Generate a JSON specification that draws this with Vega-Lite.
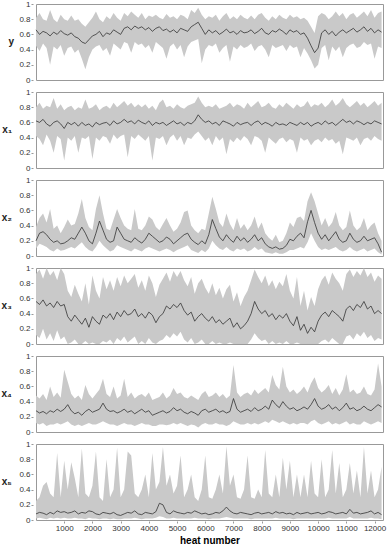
{
"$schema": "https://vega.github.io/schema/vega-lite/v6.json",
"padding": {"left": 1, "top": 0, "right": 3, "bottom": 0},
"data": {"values": [
{"v":"y","h":0,"l":0.45,"m":0.66,"u":0.82},{"v":"y","h":125,"l":0.38,"m":0.60,"u":0.88},{"v":"y","h":250,"l":0.48,"m":0.64,"u":0.80},{"v":"y","h":375,"l":0.42,"m":0.62,"u":0.78},{"v":"y","h":500,"l":0.20,"m":0.58,"u":0.92},{"v":"y","h":625,"l":0.44,"m":0.63,"u":0.80},{"v":"y","h":750,"l":0.40,"m":0.60,"u":0.76},{"v":"y","h":875,"l":0.46,"m":0.65,"u":0.86},{"v":"y","h":1000,"l":0.32,"m":0.61,"u":0.80},{"v":"y","h":1125,"l":0.42,"m":0.59,"u":0.78},
{"v":"y","h":1250,"l":0.44,"m":0.62,"u":0.85},{"v":"y","h":1375,"l":0.36,"m":0.57,"u":0.78},{"v":"y","h":1500,"l":0.40,"m":0.55,"u":0.80},{"v":"y","h":1625,"l":0.28,"m":0.50,"u":0.74},{"v":"y","h":1750,"l":0.14,"m":0.48,"u":0.70},{"v":"y","h":1875,"l":0.30,"m":0.53,"u":0.76},{"v":"y","h":2000,"l":0.40,"m":0.58,"u":0.82},{"v":"y","h":2125,"l":0.44,"m":0.60,"u":0.90},{"v":"y","h":2250,"l":0.46,"m":0.64,"u":0.80},{"v":"y","h":2375,"l":0.38,"m":0.57,"u":0.76},
{"v":"y","h":2500,"l":0.42,"m":0.62,"u":0.84},{"v":"y","h":2625,"l":0.32,"m":0.60,"u":0.80},{"v":"y","h":2750,"l":0.48,"m":0.66,"u":0.88},{"v":"y","h":2875,"l":0.44,"m":0.63,"u":0.82},{"v":"y","h":3000,"l":0.40,"m":0.60,"u":0.78},{"v":"y","h":3125,"l":0.50,"m":0.68,"u":0.88},{"v":"y","h":3250,"l":0.48,"m":0.70,"u":0.84},{"v":"y","h":3375,"l":0.36,"m":0.66,"u":0.90},{"v":"y","h":3500,"l":0.50,"m":0.71,"u":0.86},{"v":"y","h":3625,"l":0.46,"m":0.68,"u":0.82},
{"v":"y","h":3750,"l":0.48,"m":0.70,"u":0.88},{"v":"y","h":3875,"l":0.42,"m":0.66,"u":0.80},{"v":"y","h":4000,"l":0.46,"m":0.69,"u":0.85},{"v":"y","h":4125,"l":0.36,"m":0.64,"u":0.83},{"v":"y","h":4250,"l":0.50,"m":0.68,"u":0.86},{"v":"y","h":4375,"l":0.46,"m":0.70,"u":0.82},{"v":"y","h":4500,"l":0.42,"m":0.65,"u":0.80},{"v":"y","h":4625,"l":0.28,"m":0.67,"u":0.87},{"v":"y","h":4750,"l":0.44,"m":0.63,"u":0.82},{"v":"y","h":4875,"l":0.48,"m":0.66,"u":0.84},
{"v":"y","h":5000,"l":0.40,"m":0.62,"u":0.80},{"v":"y","h":5125,"l":0.46,"m":0.68,"u":0.86},{"v":"y","h":5250,"l":0.30,"m":0.66,"u":0.84},{"v":"y","h":5375,"l":0.44,"m":0.64,"u":0.80},{"v":"y","h":5500,"l":0.50,"m":0.70,"u":0.92},{"v":"y","h":5625,"l":0.52,"m":0.73,"u":0.88},{"v":"y","h":5750,"l":0.54,"m":0.76,"u":0.95},{"v":"y","h":5875,"l":0.22,"m":0.68,"u":0.86},{"v":"y","h":6000,"l":0.40,"m":0.60,"u":0.80},{"v":"y","h":6125,"l":0.46,"m":0.66,"u":0.84},
{"v":"y","h":6250,"l":0.44,"m":0.62,"u":0.82},{"v":"y","h":6375,"l":0.48,"m":0.65,"u":0.86},{"v":"y","h":6500,"l":0.36,"m":0.60,"u":0.78},{"v":"y","h":6625,"l":0.42,"m":0.63,"u":0.84},{"v":"y","h":6750,"l":0.46,"m":0.67,"u":0.88},{"v":"y","h":6875,"l":0.24,"m":0.62,"u":0.80},{"v":"y","h":7000,"l":0.44,"m":0.64,"u":0.84},{"v":"y","h":7125,"l":0.40,"m":0.60,"u":0.80},{"v":"y","h":7250,"l":0.46,"m":0.65,"u":0.86},{"v":"y","h":7375,"l":0.42,"m":0.62,"u":0.82},
{"v":"y","h":7500,"l":0.44,"m":0.63,"u":0.80},{"v":"y","h":7625,"l":0.48,"m":0.66,"u":0.85},{"v":"y","h":7750,"l":0.38,"m":0.61,"u":0.80},{"v":"y","h":7875,"l":0.44,"m":0.64,"u":0.86},{"v":"y","h":8000,"l":0.46,"m":0.68,"u":0.88},{"v":"y","h":8125,"l":0.40,"m":0.62,"u":0.82},{"v":"y","h":8250,"l":0.30,"m":0.60,"u":0.78},{"v":"y","h":8375,"l":0.46,"m":0.65,"u":0.84},{"v":"y","h":8500,"l":0.42,"m":0.63,"u":0.80},{"v":"y","h":8625,"l":0.44,"m":0.67,"u":0.86},
{"v":"y","h":8750,"l":0.46,"m":0.64,"u":0.82},{"v":"y","h":8875,"l":0.38,"m":0.60,"u":0.80},{"v":"y","h":9000,"l":0.46,"m":0.66,"u":0.86},{"v":"y","h":9125,"l":0.42,"m":0.63,"u":0.82},{"v":"y","h":9250,"l":0.44,"m":0.65,"u":0.84},{"v":"y","h":9375,"l":0.30,"m":0.60,"u":0.80},{"v":"y","h":9500,"l":0.42,"m":0.62,"u":0.82},{"v":"y","h":9625,"l":0.35,"m":0.55,"u":0.78},{"v":"y","h":9750,"l":0.26,"m":0.45,"u":0.70},{"v":"y","h":9875,"l":0.15,"m":0.36,"u":0.62},
{"v":"y","h":10000,"l":0.20,"m":0.42,"u":0.84},{"v":"y","h":10125,"l":0.42,"m":0.62,"u":0.88},{"v":"y","h":10250,"l":0.46,"m":0.66,"u":0.86},{"v":"y","h":10375,"l":0.26,"m":0.60,"u":0.80},{"v":"y","h":10500,"l":0.44,"m":0.64,"u":0.84},{"v":"y","h":10625,"l":0.38,"m":0.58,"u":0.90},{"v":"y","h":10750,"l":0.44,"m":0.63,"u":0.84},{"v":"y","h":10875,"l":0.30,"m":0.66,"u":0.88},{"v":"y","h":11000,"l":0.42,"m":0.62,"u":0.80},{"v":"y","h":11125,"l":0.46,"m":0.65,"u":0.86},
{"v":"y","h":11250,"l":0.48,"m":0.68,"u":0.88},{"v":"y","h":11375,"l":0.42,"m":0.63,"u":0.82},{"v":"y","h":11500,"l":0.44,"m":0.66,"u":0.86},{"v":"y","h":11625,"l":0.50,"m":0.70,"u":0.90},{"v":"y","h":11750,"l":0.46,"m":0.64,"u":0.84},{"v":"y","h":11875,"l":0.48,"m":0.68,"u":0.92},{"v":"y","h":12000,"l":0.28,"m":0.62,"u":0.82},{"v":"y","h":12125,"l":0.44,"m":0.66,"u":0.88},{"v":"y","h":12250,"l":0.42,"m":0.63,"u":0.90},

{"v":"x₁","h":0,"l":0.42,"m":0.62,"u":0.80},{"v":"x₁","h":125,"l":0.38,"m":0.60,"u":0.86},{"v":"x₁","h":250,"l":0.30,"m":0.64,"u":0.78},{"v":"x₁","h":375,"l":0.44,"m":0.58,"u":0.82},{"v":"x₁","h":500,"l":0.36,"m":0.55,"u":0.80},{"v":"x₁","h":625,"l":0.20,"m":0.60,"u":0.92},{"v":"x₁","h":750,"l":0.42,"m":0.62,"u":0.78},{"v":"x₁","h":875,"l":0.38,"m":0.58,"u":0.84},{"v":"x₁","h":1000,"l":0.10,"m":0.52,"u":0.76},{"v":"x₁","h":1125,"l":0.40,"m":0.60,"u":0.80},
{"v":"x₁","h":1250,"l":0.36,"m":0.57,"u":0.82},{"v":"x₁","h":1375,"l":0.42,"m":0.60,"u":0.76},{"v":"x₁","h":1500,"l":0.20,"m":0.55,"u":0.80},{"v":"x₁","h":1625,"l":0.40,"m":0.60,"u":0.78},{"v":"x₁","h":1750,"l":0.38,"m":0.56,"u":0.90},{"v":"x₁","h":1875,"l":0.42,"m":0.58,"u":0.78},{"v":"x₁","h":2000,"l":0.12,"m":0.54,"u":0.80},{"v":"x₁","h":2125,"l":0.40,"m":0.60,"u":0.84},{"v":"x₁","h":2250,"l":0.36,"m":0.57,"u":0.76},{"v":"x₁","h":2375,"l":0.42,"m":0.59,"u":0.80},
{"v":"x₁","h":2500,"l":0.40,"m":0.60,"u":0.82},{"v":"x₁","h":2625,"l":0.32,"m":0.56,"u":0.78},{"v":"x₁","h":2750,"l":0.44,"m":0.62,"u":0.86},{"v":"x₁","h":2875,"l":0.38,"m":0.58,"u":0.80},{"v":"x₁","h":3000,"l":0.42,"m":0.60,"u":0.84},{"v":"x₁","h":3125,"l":0.44,"m":0.64,"u":0.88},{"v":"x₁","h":3250,"l":0.14,"m":0.60,"u":0.82},{"v":"x₁","h":3375,"l":0.42,"m":0.62,"u":0.86},{"v":"x₁","h":3500,"l":0.38,"m":0.58,"u":0.80},{"v":"x₁","h":3625,"l":0.44,"m":0.63,"u":0.84},
{"v":"x₁","h":3750,"l":0.40,"m":0.60,"u":0.80},{"v":"x₁","h":3875,"l":0.36,"m":0.58,"u":0.84},{"v":"x₁","h":4000,"l":0.42,"m":0.62,"u":0.78},{"v":"x₁","h":4125,"l":0.10,"m":0.56,"u":0.82},{"v":"x₁","h":4250,"l":0.40,"m":0.60,"u":0.76},{"v":"x₁","h":4375,"l":0.38,"m":0.58,"u":0.86},{"v":"x₁","h":4500,"l":0.42,"m":0.60,"u":0.90},{"v":"x₁","h":4625,"l":0.30,"m":0.56,"u":0.80},{"v":"x₁","h":4750,"l":0.40,"m":0.59,"u":0.82},{"v":"x₁","h":4875,"l":0.44,"m":0.62,"u":0.78},
{"v":"x₁","h":5000,"l":0.36,"m":0.58,"u":0.84},{"v":"x₁","h":5125,"l":0.42,"m":0.60,"u":0.80},{"v":"x₁","h":5250,"l":0.30,"m":0.56,"u":0.78},{"v":"x₁","h":5375,"l":0.40,"m":0.60,"u":0.82},{"v":"x₁","h":5500,"l":0.38,"m":0.58,"u":0.84},{"v":"x₁","h":5625,"l":0.44,"m":0.62,"u":0.86},{"v":"x₁","h":5750,"l":0.48,"m":0.70,"u":0.94},{"v":"x₁","h":5875,"l":0.42,"m":0.64,"u":0.86},{"v":"x₁","h":6000,"l":0.36,"m":0.60,"u":0.80},{"v":"x₁","h":6125,"l":0.40,"m":0.62,"u":0.82},
{"v":"x₁","h":6250,"l":0.30,"m":0.58,"u":0.80},{"v":"x₁","h":6375,"l":0.42,"m":0.60,"u":0.84},{"v":"x₁","h":6500,"l":0.36,"m":0.56,"u":0.78},{"v":"x₁","h":6625,"l":0.40,"m":0.62,"u":0.80},{"v":"x₁","h":6750,"l":0.18,"m":0.60,"u":0.82},{"v":"x₁","h":6875,"l":0.38,"m":0.58,"u":0.86},{"v":"x₁","h":7000,"l":0.34,"m":0.55,"u":0.80},{"v":"x₁","h":7125,"l":0.40,"m":0.60,"u":0.84},{"v":"x₁","h":7250,"l":0.36,"m":0.57,"u":0.82},{"v":"x₁","h":7375,"l":0.42,"m":0.59,"u":0.78},
{"v":"x₁","h":7500,"l":0.38,"m":0.60,"u":0.86},{"v":"x₁","h":7625,"l":0.30,"m":0.56,"u":0.80},{"v":"x₁","h":7750,"l":0.42,"m":0.60,"u":0.84},{"v":"x₁","h":7875,"l":0.40,"m":0.62,"u":0.88},{"v":"x₁","h":8000,"l":0.36,"m":0.57,"u":0.80},{"v":"x₁","h":8125,"l":0.20,"m":0.60,"u":0.82},{"v":"x₁","h":8250,"l":0.40,"m":0.58,"u":0.86},{"v":"x₁","h":8375,"l":0.36,"m":0.55,"u":0.80},{"v":"x₁","h":8500,"l":0.32,"m":0.60,"u":0.78},{"v":"x₁","h":8625,"l":0.38,"m":0.57,"u":0.84},
{"v":"x₁","h":8750,"l":0.40,"m":0.58,"u":0.80},{"v":"x₁","h":8875,"l":0.34,"m":0.56,"u":0.86},{"v":"x₁","h":9000,"l":0.38,"m":0.60,"u":0.82},{"v":"x₁","h":9125,"l":0.36,"m":0.58,"u":0.78},{"v":"x₁","h":9250,"l":0.20,"m":0.56,"u":0.84},{"v":"x₁","h":9375,"l":0.40,"m":0.60,"u":0.80},{"v":"x₁","h":9500,"l":0.36,"m":0.57,"u":0.82},{"v":"x₁","h":9625,"l":0.38,"m":0.60,"u":0.88},{"v":"x₁","h":9750,"l":0.30,"m":0.55,"u":0.80},{"v":"x₁","h":9875,"l":0.36,"m":0.58,"u":0.84},
{"v":"x₁","h":10000,"l":0.38,"m":0.60,"u":0.82},{"v":"x₁","h":10125,"l":0.34,"m":0.57,"u":0.86},{"v":"x₁","h":10250,"l":0.40,"m":0.62,"u":0.80},{"v":"x₁","h":10375,"l":0.36,"m":0.58,"u":0.84},{"v":"x₁","h":10500,"l":0.38,"m":0.60,"u":0.90},{"v":"x₁","h":10625,"l":0.32,"m":0.56,"u":0.82},{"v":"x₁","h":10750,"l":0.36,"m":0.60,"u":0.86},{"v":"x₁","h":10875,"l":0.18,"m":0.64,"u":0.92},{"v":"x₁","h":11000,"l":0.40,"m":0.60,"u":0.84},{"v":"x₁","h":11125,"l":0.38,"m":0.62,"u":0.80},
{"v":"x₁","h":11250,"l":0.36,"m":0.58,"u":0.84},{"v":"x₁","h":11375,"l":0.40,"m":0.62,"u":0.88},{"v":"x₁","h":11500,"l":0.30,"m":0.60,"u":0.82},{"v":"x₁","h":11625,"l":0.38,"m":0.57,"u":0.86},{"v":"x₁","h":11750,"l":0.40,"m":0.60,"u":0.80},{"v":"x₁","h":11875,"l":0.36,"m":0.58,"u":0.84},{"v":"x₁","h":12000,"l":0.42,"m":0.62,"u":0.88},{"v":"x₁","h":12125,"l":0.38,"m":0.60,"u":0.82},{"v":"x₁","h":12250,"l":0.36,"m":0.58,"u":0.86},

{"v":"x₂","h":0,"l":0.10,"m":0.20,"u":0.38},{"v":"x₂","h":125,"l":0.16,"m":0.30,"u":0.50},{"v":"x₂","h":250,"l":0.14,"m":0.32,"u":0.56},{"v":"x₂","h":375,"l":0.12,"m":0.28,"u":0.44},{"v":"x₂","h":500,"l":0.08,"m":0.22,"u":0.62},{"v":"x₂","h":625,"l":0.06,"m":0.18,"u":0.36},{"v":"x₂","h":750,"l":0.10,"m":0.20,"u":0.40},{"v":"x₂","h":875,"l":0.07,"m":0.16,"u":0.30},{"v":"x₂","h":1000,"l":0.08,"m":0.17,"u":0.38},{"v":"x₂","h":1125,"l":0.10,"m":0.20,"u":0.48},
{"v":"x₂","h":1250,"l":0.12,"m":0.24,"u":0.40},{"v":"x₂","h":1375,"l":0.10,"m":0.22,"u":0.42},{"v":"x₂","h":1500,"l":0.14,"m":0.30,"u":0.56},{"v":"x₂","h":1625,"l":0.18,"m":0.38,"u":0.75},{"v":"x₂","h":1750,"l":0.12,"m":0.30,"u":0.50},{"v":"x₂","h":1875,"l":0.08,"m":0.20,"u":0.38},{"v":"x₂","h":2000,"l":0.06,"m":0.16,"u":0.34},{"v":"x₂","h":2125,"l":0.12,"m":0.30,"u":0.62},{"v":"x₂","h":2250,"l":0.20,"m":0.46,"u":0.80},{"v":"x₂","h":2375,"l":0.14,"m":0.34,"u":0.56},
{"v":"x₂","h":2500,"l":0.10,"m":0.22,"u":0.36},{"v":"x₂","h":2625,"l":0.06,"m":0.18,"u":0.34},{"v":"x₂","h":2750,"l":0.08,"m":0.20,"u":0.48},{"v":"x₂","h":2875,"l":0.14,"m":0.38,"u":0.62},{"v":"x₂","h":3000,"l":0.12,"m":0.30,"u":0.50},{"v":"x₂","h":3125,"l":0.10,"m":0.22,"u":0.40},{"v":"x₂","h":3250,"l":0.08,"m":0.20,"u":0.36},{"v":"x₂","h":3375,"l":0.06,"m":0.18,"u":0.34},{"v":"x₂","h":3500,"l":0.10,"m":0.24,"u":0.62},{"v":"x₂","h":3625,"l":0.08,"m":0.20,"u":0.36},
{"v":"x₂","h":3750,"l":0.06,"m":0.17,"u":0.34},{"v":"x₂","h":3875,"l":0.10,"m":0.22,"u":0.40},{"v":"x₂","h":4000,"l":0.12,"m":0.30,"u":0.52},{"v":"x₂","h":4125,"l":0.10,"m":0.26,"u":0.48},{"v":"x₂","h":4250,"l":0.08,"m":0.22,"u":0.38},{"v":"x₂","h":4375,"l":0.06,"m":0.18,"u":0.34},{"v":"x₂","h":4500,"l":0.08,"m":0.20,"u":0.42},{"v":"x₂","h":4625,"l":0.10,"m":0.25,"u":0.50},{"v":"x₂","h":4750,"l":0.08,"m":0.22,"u":0.40},{"v":"x₂","h":4875,"l":0.05,"m":0.16,"u":0.32},
{"v":"x₂","h":5000,"l":0.08,"m":0.20,"u":0.36},{"v":"x₂","h":5125,"l":0.10,"m":0.24,"u":0.44},{"v":"x₂","h":5250,"l":0.12,"m":0.28,"u":0.58},{"v":"x₂","h":5375,"l":0.14,"m":0.30,"u":0.60},{"v":"x₂","h":5500,"l":0.08,"m":0.22,"u":0.40},{"v":"x₂","h":5625,"l":0.06,"m":0.18,"u":0.34},{"v":"x₂","h":5750,"l":0.04,"m":0.15,"u":0.30},{"v":"x₂","h":5875,"l":0.08,"m":0.20,"u":0.36},{"v":"x₂","h":6000,"l":0.05,"m":0.16,"u":0.34},{"v":"x₂","h":6125,"l":0.10,"m":0.28,"u":0.56},
{"v":"x₂","h":6250,"l":0.20,"m":0.48,"u":0.78},{"v":"x₂","h":6375,"l":0.14,"m":0.36,"u":0.62},{"v":"x₂","h":6500,"l":0.10,"m":0.25,"u":0.44},{"v":"x₂","h":6625,"l":0.08,"m":0.20,"u":0.38},{"v":"x₂","h":6750,"l":0.12,"m":0.28,"u":0.56},{"v":"x₂","h":6875,"l":0.08,"m":0.22,"u":0.42},{"v":"x₂","h":7000,"l":0.06,"m":0.18,"u":0.34},{"v":"x₂","h":7125,"l":0.10,"m":0.26,"u":0.50},{"v":"x₂","h":7250,"l":0.08,"m":0.20,"u":0.36},{"v":"x₂","h":7375,"l":0.10,"m":0.24,"u":0.42},
{"v":"x₂","h":7500,"l":0.06,"m":0.18,"u":0.34},{"v":"x₂","h":7625,"l":0.08,"m":0.22,"u":0.40},{"v":"x₂","h":7750,"l":0.12,"m":0.28,"u":0.52},{"v":"x₂","h":7875,"l":0.08,"m":0.20,"u":0.36},{"v":"x₂","h":8000,"l":0.10,"m":0.24,"u":0.44},{"v":"x₂","h":8125,"l":0.05,"m":0.16,"u":0.30},{"v":"x₂","h":8250,"l":0.04,"m":0.12,"u":0.24},{"v":"x₂","h":8375,"l":0.03,"m":0.10,"u":0.20},{"v":"x₂","h":8500,"l":0.05,"m":0.12,"u":0.28},{"v":"x₂","h":8625,"l":0.03,"m":0.09,"u":0.18},
{"v":"x₂","h":8750,"l":0.03,"m":0.10,"u":0.20},{"v":"x₂","h":8875,"l":0.05,"m":0.14,"u":0.30},{"v":"x₂","h":9000,"l":0.08,"m":0.22,"u":0.44},{"v":"x₂","h":9125,"l":0.08,"m":0.20,"u":0.38},{"v":"x₂","h":9250,"l":0.10,"m":0.26,"u":0.50},{"v":"x₂","h":9375,"l":0.12,"m":0.30,"u":0.52},{"v":"x₂","h":9500,"l":0.10,"m":0.24,"u":0.46},{"v":"x₂","h":9625,"l":0.18,"m":0.45,"u":0.72},{"v":"x₂","h":9750,"l":0.30,"m":0.60,"u":0.84},{"v":"x₂","h":9875,"l":0.20,"m":0.44,"u":0.72},
{"v":"x₂","h":10000,"l":0.12,"m":0.30,"u":0.56},{"v":"x₂","h":10125,"l":0.08,"m":0.22,"u":0.40},{"v":"x₂","h":10250,"l":0.10,"m":0.28,"u":0.50},{"v":"x₂","h":10375,"l":0.08,"m":0.20,"u":0.38},{"v":"x₂","h":10500,"l":0.10,"m":0.26,"u":0.44},{"v":"x₂","h":10625,"l":0.12,"m":0.32,"u":0.58},{"v":"x₂","h":10750,"l":0.08,"m":0.22,"u":0.40},{"v":"x₂","h":10875,"l":0.06,"m":0.18,"u":0.34},{"v":"x₂","h":11000,"l":0.08,"m":0.20,"u":0.38},{"v":"x₂","h":11125,"l":0.12,"m":0.30,"u":0.60},
{"v":"x₂","h":11250,"l":0.08,"m":0.22,"u":0.40},{"v":"x₂","h":11375,"l":0.06,"m":0.18,"u":0.34},{"v":"x₂","h":11500,"l":0.08,"m":0.20,"u":0.38},{"v":"x₂","h":11625,"l":0.10,"m":0.26,"u":0.50},{"v":"x₂","h":11750,"l":0.06,"m":0.20,"u":0.34},{"v":"x₂","h":11875,"l":0.08,"m":0.22,"u":0.40},{"v":"x₂","h":12000,"l":0.10,"m":0.24,"u":0.44},{"v":"x₂","h":12125,"l":0.05,"m":0.16,"u":0.30},{"v":"x₂","h":12250,"l":0.02,"m":0.05,"u":0.20},

{"v":"x₃","h":0,"l":0.12,"m":0.56,"u":0.92},{"v":"x₃","h":125,"l":0.08,"m":0.52,"u":0.98},{"v":"x₃","h":250,"l":0.20,"m":0.58,"u":0.86},{"v":"x₃","h":375,"l":0.06,"m":0.50,"u":1.00},{"v":"x₃","h":500,"l":0.14,"m":0.54,"u":0.90},{"v":"x₃","h":625,"l":0.04,"m":0.48,"u":0.96},{"v":"x₃","h":750,"l":0.18,"m":0.56,"u":0.84},{"v":"x₃","h":875,"l":0.06,"m":0.50,"u":1.00},{"v":"x₃","h":1000,"l":0.10,"m":0.52,"u":0.92},{"v":"x₃","h":1125,"l":0.00,"m":0.36,"u":0.70},
{"v":"x₃","h":1250,"l":0.02,"m":0.30,"u":0.62},{"v":"x₃","h":1375,"l":0.06,"m":0.38,"u":0.78},{"v":"x₃","h":1500,"l":0.00,"m":0.32,"u":0.66},{"v":"x₃","h":1625,"l":0.00,"m":0.26,"u":0.56},{"v":"x₃","h":1750,"l":0.04,"m":0.34,"u":0.80},{"v":"x₃","h":1875,"l":0.00,"m":0.22,"u":0.52},{"v":"x₃","h":2000,"l":0.02,"m":0.36,"u":0.90},{"v":"x₃","h":2125,"l":0.00,"m":0.30,"u":0.70},{"v":"x₃","h":2250,"l":0.00,"m":0.26,"u":0.60},{"v":"x₃","h":2375,"l":0.04,"m":0.38,"u":0.88},
{"v":"x₃","h":2500,"l":0.02,"m":0.34,"u":0.72},{"v":"x₃","h":2625,"l":0.06,"m":0.40,"u":0.84},{"v":"x₃","h":2750,"l":0.00,"m":0.32,"u":0.70},{"v":"x₃","h":2875,"l":0.08,"m":0.42,"u":0.88},{"v":"x₃","h":3000,"l":0.04,"m":0.36,"u":0.76},{"v":"x₃","h":3125,"l":0.10,"m":0.44,"u":0.90},{"v":"x₃","h":3250,"l":0.02,"m":0.38,"u":0.80},{"v":"x₃","h":3375,"l":0.06,"m":0.40,"u":0.86},{"v":"x₃","h":3500,"l":0.10,"m":0.46,"u":0.92},{"v":"x₃","h":3625,"l":0.00,"m":0.36,"u":0.74},
{"v":"x₃","h":3750,"l":0.04,"m":0.40,"u":0.84},{"v":"x₃","h":3875,"l":0.00,"m":0.34,"u":0.70},{"v":"x₃","h":4000,"l":0.08,"m":0.42,"u":0.90},{"v":"x₃","h":4125,"l":0.02,"m":0.38,"u":0.80},{"v":"x₃","h":4250,"l":0.00,"m":0.28,"u":0.62},{"v":"x₃","h":4375,"l":0.04,"m":0.36,"u":0.78},{"v":"x₃","h":4500,"l":0.06,"m":0.40,"u":0.86},{"v":"x₃","h":4625,"l":0.12,"m":0.50,"u":0.94},{"v":"x₃","h":4750,"l":0.08,"m":0.46,"u":0.82},{"v":"x₃","h":4875,"l":0.14,"m":0.52,"u":0.96},
{"v":"x₃","h":5000,"l":0.10,"m":0.48,"u":0.88},{"v":"x₃","h":5125,"l":0.16,"m":0.54,"u":0.96},{"v":"x₃","h":5250,"l":0.06,"m":0.44,"u":0.84},{"v":"x₃","h":5375,"l":0.02,"m":0.38,"u":0.76},{"v":"x₃","h":5500,"l":0.08,"m":0.42,"u":0.88},{"v":"x₃","h":5625,"l":0.00,"m":0.30,"u":0.66},{"v":"x₃","h":5750,"l":0.02,"m":0.36,"u":0.80},{"v":"x₃","h":5875,"l":0.06,"m":0.40,"u":0.86},{"v":"x₃","h":6000,"l":0.00,"m":0.34,"u":0.74},{"v":"x₃","h":6125,"l":0.00,"m":0.30,"u":0.66},
{"v":"x₃","h":6250,"l":0.04,"m":0.36,"u":0.80},{"v":"x₃","h":6375,"l":0.00,"m":0.28,"u":0.64},{"v":"x₃","h":6500,"l":0.02,"m":0.32,"u":0.74},{"v":"x₃","h":6625,"l":0.00,"m":0.26,"u":0.60},{"v":"x₃","h":6750,"l":0.00,"m":0.30,"u":0.72},{"v":"x₃","h":6875,"l":0.02,"m":0.34,"u":0.78},{"v":"x₃","h":7000,"l":0.00,"m":0.22,"u":0.56},{"v":"x₃","h":7125,"l":0.00,"m":0.28,"u":0.68},{"v":"x₃","h":7250,"l":0.00,"m":0.20,"u":0.50},{"v":"x₃","h":7375,"l":0.00,"m":0.24,"u":0.62},
{"v":"x₃","h":7500,"l":0.00,"m":0.30,"u":0.70},{"v":"x₃","h":7625,"l":0.06,"m":0.40,"u":0.84},{"v":"x₃","h":7750,"l":0.14,"m":0.56,"u":0.98},{"v":"x₃","h":7875,"l":0.08,"m":0.46,"u":0.88},{"v":"x₃","h":8000,"l":0.04,"m":0.40,"u":0.80},{"v":"x₃","h":8125,"l":0.06,"m":0.44,"u":0.90},{"v":"x₃","h":8250,"l":0.00,"m":0.36,"u":0.76},{"v":"x₃","h":8375,"l":0.04,"m":0.40,"u":0.84},{"v":"x₃","h":8500,"l":0.00,"m":0.32,"u":0.72},{"v":"x₃","h":8625,"l":0.02,"m":0.38,"u":0.82},
{"v":"x₃","h":8750,"l":0.00,"m":0.34,"u":0.76},{"v":"x₃","h":8875,"l":0.04,"m":0.40,"u":0.92},{"v":"x₃","h":9000,"l":0.00,"m":0.30,"u":0.70},{"v":"x₃","h":9125,"l":0.00,"m":0.24,"u":0.60},{"v":"x₃","h":9250,"l":0.02,"m":0.36,"u":0.88},{"v":"x₃","h":9375,"l":0.00,"m":0.18,"u":0.50},{"v":"x₃","h":9500,"l":0.00,"m":0.26,"u":0.70},{"v":"x₃","h":9625,"l":0.00,"m":0.14,"u":0.44},{"v":"x₃","h":9750,"l":0.00,"m":0.22,"u":0.62},{"v":"x₃","h":9875,"l":0.00,"m":0.16,"u":0.50},
{"v":"x₃","h":10000,"l":0.00,"m":0.30,"u":0.72},{"v":"x₃","h":10125,"l":0.04,"m":0.38,"u":0.84},{"v":"x₃","h":10250,"l":0.06,"m":0.42,"u":0.90},{"v":"x₃","h":10375,"l":0.02,"m":0.36,"u":0.78},{"v":"x₃","h":10500,"l":0.08,"m":0.44,"u":0.94},{"v":"x₃","h":10625,"l":0.04,"m":0.40,"u":0.86},{"v":"x₃","h":10750,"l":0.00,"m":0.36,"u":0.80},{"v":"x₃","h":10875,"l":0.00,"m":0.30,"u":0.70},{"v":"x₃","h":11000,"l":0.10,"m":0.46,"u":0.92},{"v":"x₃","h":11125,"l":0.12,"m":0.50,"u":0.98},
{"v":"x₃","h":11250,"l":0.06,"m":0.44,"u":0.88},{"v":"x₃","h":11375,"l":0.14,"m":0.52,"u":0.96},{"v":"x₃","h":11500,"l":0.10,"m":0.48,"u":0.90},{"v":"x₃","h":11625,"l":0.16,"m":0.56,"u":1.00},{"v":"x₃","h":11750,"l":0.08,"m":0.46,"u":0.88},{"v":"x₃","h":11875,"l":0.12,"m":0.50,"u":0.94},{"v":"x₃","h":12000,"l":0.04,"m":0.40,"u":0.82},{"v":"x₃","h":12125,"l":0.08,"m":0.44,"u":0.90},{"v":"x₃","h":12250,"l":0.06,"m":0.40,"u":0.86},

{"v":"x₄","h":0,"l":0.12,"m":0.28,"u":0.48},{"v":"x₄","h":125,"l":0.10,"m":0.25,"u":0.44},{"v":"x₄","h":250,"l":0.12,"m":0.27,"u":0.50},{"v":"x₄","h":375,"l":0.08,"m":0.24,"u":0.42},{"v":"x₄","h":500,"l":0.10,"m":0.28,"u":0.60},{"v":"x₄","h":625,"l":0.10,"m":0.26,"u":0.46},{"v":"x₄","h":750,"l":0.12,"m":0.30,"u":0.52},{"v":"x₄","h":875,"l":0.10,"m":0.27,"u":0.45},{"v":"x₄","h":1000,"l":0.12,"m":0.30,"u":0.82},{"v":"x₄","h":1125,"l":0.14,"m":0.36,"u":0.66},
{"v":"x₄","h":1250,"l":0.10,"m":0.28,"u":0.50},{"v":"x₄","h":1375,"l":0.08,"m":0.24,"u":0.44},{"v":"x₄","h":1500,"l":0.10,"m":0.26,"u":0.48},{"v":"x₄","h":1625,"l":0.08,"m":0.22,"u":0.42},{"v":"x₄","h":1750,"l":0.10,"m":0.27,"u":0.62},{"v":"x₄","h":1875,"l":0.12,"m":0.30,"u":0.50},{"v":"x₄","h":2000,"l":0.10,"m":0.26,"u":0.44},{"v":"x₄","h":2125,"l":0.10,"m":0.28,"u":0.50},{"v":"x₄","h":2250,"l":0.12,"m":0.30,"u":0.56},{"v":"x₄","h":2375,"l":0.14,"m":0.38,"u":0.70},
{"v":"x₄","h":2500,"l":0.12,"m":0.30,"u":0.50},{"v":"x₄","h":2625,"l":0.10,"m":0.27,"u":0.46},{"v":"x₄","h":2750,"l":0.10,"m":0.28,"u":0.60},{"v":"x₄","h":2875,"l":0.08,"m":0.25,"u":0.44},{"v":"x₄","h":3000,"l":0.10,"m":0.27,"u":0.48},{"v":"x₄","h":3125,"l":0.12,"m":0.30,"u":0.70},{"v":"x₄","h":3250,"l":0.10,"m":0.26,"u":0.46},{"v":"x₄","h":3375,"l":0.10,"m":0.28,"u":0.52},{"v":"x₄","h":3500,"l":0.08,"m":0.24,"u":0.44},{"v":"x₄","h":3625,"l":0.10,"m":0.27,"u":0.48},
{"v":"x₄","h":3750,"l":0.12,"m":0.30,"u":0.50},{"v":"x₄","h":3875,"l":0.10,"m":0.26,"u":0.46},{"v":"x₄","h":4000,"l":0.10,"m":0.28,"u":0.52},{"v":"x₄","h":4125,"l":0.08,"m":0.22,"u":0.42},{"v":"x₄","h":4250,"l":0.08,"m":0.24,"u":0.44},{"v":"x₄","h":4375,"l":0.10,"m":0.26,"u":0.46},{"v":"x₄","h":4500,"l":0.10,"m":0.28,"u":0.52},{"v":"x₄","h":4625,"l":0.09,"m":0.25,"u":0.44},{"v":"x₄","h":4750,"l":0.10,"m":0.27,"u":0.48},{"v":"x₄","h":4875,"l":0.12,"m":0.32,"u":0.58},
{"v":"x₄","h":5000,"l":0.10,"m":0.28,"u":0.50},{"v":"x₄","h":5125,"l":0.12,"m":0.30,"u":0.52},{"v":"x₄","h":5250,"l":0.10,"m":0.26,"u":0.46},{"v":"x₄","h":5375,"l":0.08,"m":0.24,"u":0.44},{"v":"x₄","h":5500,"l":0.10,"m":0.27,"u":0.48},{"v":"x₄","h":5625,"l":0.09,"m":0.25,"u":0.45},{"v":"x₄","h":5750,"l":0.06,"m":0.22,"u":0.42},{"v":"x₄","h":5875,"l":0.10,"m":0.28,"u":0.50},{"v":"x₄","h":6000,"l":0.12,"m":0.30,"u":0.54},{"v":"x₄","h":6125,"l":0.10,"m":0.26,"u":0.46},
{"v":"x₄","h":6250,"l":0.10,"m":0.28,"u":0.48},{"v":"x₄","h":6375,"l":0.12,"m":0.30,"u":0.52},{"v":"x₄","h":6500,"l":0.10,"m":0.26,"u":0.46},{"v":"x₄","h":6625,"l":0.10,"m":0.28,"u":0.50},{"v":"x₄","h":6750,"l":0.08,"m":0.25,"u":0.44},{"v":"x₄","h":6875,"l":0.10,"m":0.27,"u":0.48},{"v":"x₄","h":7000,"l":0.14,"m":0.44,"u":0.88},{"v":"x₄","h":7125,"l":0.12,"m":0.30,"u":0.52},{"v":"x₄","h":7250,"l":0.10,"m":0.26,"u":0.46},{"v":"x₄","h":7375,"l":0.10,"m":0.28,"u":0.50},
{"v":"x₄","h":7500,"l":0.12,"m":0.30,"u":0.52},{"v":"x₄","h":7625,"l":0.10,"m":0.27,"u":0.48},{"v":"x₄","h":7750,"l":0.12,"m":0.32,"u":0.56},{"v":"x₄","h":7875,"l":0.10,"m":0.28,"u":0.50},{"v":"x₄","h":8000,"l":0.12,"m":0.30,"u":0.54},{"v":"x₄","h":8125,"l":0.14,"m":0.34,"u":0.58},{"v":"x₄","h":8250,"l":0.12,"m":0.30,"u":0.52},{"v":"x₄","h":8375,"l":0.16,"m":0.42,"u":0.75},{"v":"x₄","h":8500,"l":0.14,"m":0.36,"u":0.62},{"v":"x₄","h":8625,"l":0.12,"m":0.32,"u":0.56},
{"v":"x₄","h":8750,"l":0.14,"m":0.40,"u":0.86},{"v":"x₄","h":8875,"l":0.12,"m":0.34,"u":0.60},{"v":"x₄","h":9000,"l":0.10,"m":0.30,"u":0.52},{"v":"x₄","h":9125,"l":0.12,"m":0.32,"u":0.56},{"v":"x₄","h":9250,"l":0.10,"m":0.28,"u":0.50},{"v":"x₄","h":9375,"l":0.12,"m":0.30,"u":0.54},{"v":"x₄","h":9500,"l":0.12,"m":0.33,"u":0.60},{"v":"x₄","h":9625,"l":0.10,"m":0.30,"u":0.52},{"v":"x₄","h":9750,"l":0.14,"m":0.36,"u":0.64},{"v":"x₄","h":9875,"l":0.16,"m":0.44,"u":0.72},
{"v":"x₄","h":10000,"l":0.12,"m":0.34,"u":0.58},{"v":"x₄","h":10125,"l":0.10,"m":0.30,"u":0.52},{"v":"x₄","h":10250,"l":0.12,"m":0.32,"u":0.56},{"v":"x₄","h":10375,"l":0.14,"m":0.36,"u":0.62},{"v":"x₄","h":10500,"l":0.10,"m":0.30,"u":0.50},{"v":"x₄","h":10625,"l":0.12,"m":0.33,"u":0.58},{"v":"x₄","h":10750,"l":0.10,"m":0.28,"u":0.48},{"v":"x₄","h":10875,"l":0.12,"m":0.32,"u":0.56},{"v":"x₄","h":11000,"l":0.14,"m":0.38,"u":0.76},{"v":"x₄","h":11125,"l":0.10,"m":0.30,"u":0.52},
{"v":"x₄","h":11250,"l":0.12,"m":0.32,"u":0.56},{"v":"x₄","h":11375,"l":0.10,"m":0.28,"u":0.50},{"v":"x₄","h":11500,"l":0.10,"m":0.30,"u":0.52},{"v":"x₄","h":11625,"l":0.14,"m":0.34,"u":0.60},{"v":"x₄","h":11750,"l":0.12,"m":0.30,"u":0.50},{"v":"x₄","h":11875,"l":0.10,"m":0.28,"u":0.48},{"v":"x₄","h":12000,"l":0.12,"m":0.32,"u":0.56},{"v":"x₄","h":12125,"l":0.14,"m":0.36,"u":0.90},{"v":"x₄","h":12250,"l":0.12,"m":0.33,"u":0.60},

{"v":"x₅","h":0,"l":0.02,"m":0.08,"u":0.25},{"v":"x₅","h":125,"l":0.03,"m":0.10,"u":0.30},{"v":"x₅","h":250,"l":0.02,"m":0.09,"u":0.45},{"v":"x₅","h":375,"l":0.01,"m":0.07,"u":0.50},{"v":"x₅","h":500,"l":0.03,"m":0.10,"u":0.35},{"v":"x₅","h":625,"l":0.02,"m":0.08,"u":0.30},{"v":"x₅","h":750,"l":0.03,"m":0.12,"u":0.88},{"v":"x₅","h":875,"l":0.02,"m":0.10,"u":0.30},{"v":"x₅","h":1000,"l":0.03,"m":0.11,"u":0.78},{"v":"x₅","h":1125,"l":0.02,"m":0.09,"u":0.40},
{"v":"x₅","h":1250,"l":0.02,"m":0.10,"u":0.76},{"v":"x₅","h":1375,"l":0.03,"m":0.12,"u":0.55},{"v":"x₅","h":1500,"l":0.02,"m":0.08,"u":0.30},{"v":"x₅","h":1625,"l":0.02,"m":0.10,"u":0.94},{"v":"x₅","h":1750,"l":0.01,"m":0.09,"u":0.35},{"v":"x₅","h":1875,"l":0.03,"m":0.12,"u":0.30},{"v":"x₅","h":2000,"l":0.02,"m":0.11,"u":0.45},{"v":"x₅","h":2125,"l":0.02,"m":0.08,"u":0.90},{"v":"x₅","h":2250,"l":0.01,"m":0.07,"u":0.30},{"v":"x₅","h":2375,"l":0.02,"m":0.10,"u":0.25},
{"v":"x₅","h":2500,"l":0.02,"m":0.09,"u":0.80},{"v":"x₅","h":2625,"l":0.01,"m":0.08,"u":0.30},{"v":"x₅","h":2750,"l":0.02,"m":0.10,"u":0.40},{"v":"x₅","h":2875,"l":0.01,"m":0.07,"u":0.95},{"v":"x₅","h":3000,"l":0.01,"m":0.06,"u":0.30},{"v":"x₅","h":3125,"l":0.02,"m":0.08,"u":0.40},{"v":"x₅","h":3250,"l":0.02,"m":0.10,"u":0.90},{"v":"x₅","h":3375,"l":0.02,"m":0.09,"u":0.85},{"v":"x₅","h":3500,"l":0.03,"m":0.12,"u":0.35},{"v":"x₅","h":3625,"l":0.02,"m":0.08,"u":0.30},
{"v":"x₅","h":3750,"l":0.01,"m":0.07,"u":0.40},{"v":"x₅","h":3875,"l":0.02,"m":0.10,"u":0.60},{"v":"x₅","h":4000,"l":0.02,"m":0.09,"u":0.30},{"v":"x₅","h":4125,"l":0.02,"m":0.08,"u":0.88},{"v":"x₅","h":4250,"l":0.03,"m":0.11,"u":0.40},{"v":"x₅","h":4375,"l":0.05,"m":0.22,"u":0.50},{"v":"x₅","h":4500,"l":0.04,"m":0.20,"u":0.96},{"v":"x₅","h":4625,"l":0.02,"m":0.10,"u":0.45},{"v":"x₅","h":4750,"l":0.02,"m":0.08,"u":0.60},{"v":"x₅","h":4875,"l":0.03,"m":0.12,"u":0.35},
{"v":"x₅","h":5000,"l":0.02,"m":0.10,"u":0.45},{"v":"x₅","h":5125,"l":0.02,"m":0.09,"u":0.85},{"v":"x₅","h":5250,"l":0.02,"m":0.08,"u":0.30},{"v":"x₅","h":5375,"l":0.02,"m":0.10,"u":0.40},{"v":"x₅","h":5500,"l":0.02,"m":0.09,"u":0.60},{"v":"x₅","h":5625,"l":0.03,"m":0.12,"u":0.30},{"v":"x₅","h":5750,"l":0.02,"m":0.10,"u":0.25},{"v":"x₅","h":5875,"l":0.02,"m":0.08,"u":0.40},{"v":"x₅","h":6000,"l":0.02,"m":0.09,"u":0.85},{"v":"x₅","h":6125,"l":0.01,"m":0.07,"u":0.30},
{"v":"x₅","h":6250,"l":0.02,"m":0.08,"u":0.28},{"v":"x₅","h":6375,"l":0.02,"m":0.10,"u":0.40},{"v":"x₅","h":6500,"l":0.02,"m":0.09,"u":0.60},{"v":"x₅","h":6625,"l":0.03,"m":0.12,"u":0.35},{"v":"x₅","h":6750,"l":0.04,"m":0.17,"u":0.97},{"v":"x₅","h":6875,"l":0.03,"m":0.12,"u":0.45},{"v":"x₅","h":7000,"l":0.02,"m":0.09,"u":0.60},{"v":"x₅","h":7125,"l":0.02,"m":0.08,"u":0.30},{"v":"x₅","h":7250,"l":0.02,"m":0.10,"u":0.28},{"v":"x₅","h":7375,"l":0.02,"m":0.09,"u":0.40},
{"v":"x₅","h":7500,"l":0.02,"m":0.08,"u":0.85},{"v":"x₅","h":7625,"l":0.01,"m":0.07,"u":0.30},{"v":"x₅","h":7750,"l":0.02,"m":0.09,"u":0.28},{"v":"x₅","h":7875,"l":0.02,"m":0.10,"u":0.40},{"v":"x₅","h":8000,"l":0.02,"m":0.08,"u":0.30},{"v":"x₅","h":8125,"l":0.02,"m":0.09,"u":0.92},{"v":"x₅","h":8250,"l":0.02,"m":0.10,"u":0.35},{"v":"x₅","h":8375,"l":0.02,"m":0.08,"u":0.30},{"v":"x₅","h":8500,"l":0.03,"m":0.11,"u":0.60},{"v":"x₅","h":8625,"l":0.02,"m":0.09,"u":0.30},
{"v":"x₅","h":8750,"l":0.02,"m":0.10,"u":0.82},{"v":"x₅","h":8875,"l":0.02,"m":0.08,"u":0.40},{"v":"x₅","h":9000,"l":0.02,"m":0.09,"u":0.78},{"v":"x₅","h":9125,"l":0.01,"m":0.07,"u":0.30},{"v":"x₅","h":9250,"l":0.02,"m":0.10,"u":0.60},{"v":"x₅","h":9375,"l":0.02,"m":0.08,"u":0.30},{"v":"x₅","h":9500,"l":0.02,"m":0.09,"u":0.60},{"v":"x₅","h":9625,"l":0.02,"m":0.10,"u":0.30},{"v":"x₅","h":9750,"l":0.02,"m":0.08,"u":0.78},{"v":"x₅","h":9875,"l":0.02,"m":0.09,"u":0.35},
{"v":"x₅","h":10000,"l":0.02,"m":0.10,"u":0.30},{"v":"x₅","h":10125,"l":0.02,"m":0.08,"u":0.80},{"v":"x₅","h":10250,"l":0.02,"m":0.09,"u":0.30},{"v":"x₅","h":10375,"l":0.03,"m":0.11,"u":0.40},{"v":"x₅","h":10500,"l":0.02,"m":0.10,"u":0.92},{"v":"x₅","h":10625,"l":0.02,"m":0.08,"u":0.35},{"v":"x₅","h":10750,"l":0.02,"m":0.09,"u":0.75},{"v":"x₅","h":10875,"l":0.02,"m":0.10,"u":0.30},{"v":"x₅","h":11000,"l":0.02,"m":0.08,"u":0.40},{"v":"x₅","h":11125,"l":0.04,"m":0.14,"u":0.75},
{"v":"x₅","h":11250,"l":0.02,"m":0.09,"u":0.35},{"v":"x₅","h":11375,"l":0.02,"m":0.10,"u":0.65},{"v":"x₅","h":11500,"l":0.02,"m":0.08,"u":0.30},{"v":"x₅","h":11625,"l":0.02,"m":0.09,"u":0.96},{"v":"x₅","h":11750,"l":0.02,"m":0.10,"u":0.35},{"v":"x₅","h":11875,"l":0.03,"m":0.12,"u":0.65},{"v":"x₅","h":12000,"l":0.02,"m":0.08,"u":0.30},{"v":"x₅","h":12125,"l":0.02,"m":0.10,"u":0.40},{"v":"x₅","h":12250,"l":0.01,"m":0.07,"u":0.70}
]},
"facet": {"row": {"field": "v", "type": "nominal", "sort": ["y","x₁","x₂","x₃","x₄","x₅"],
  "header": {"title": null, "labelOrient": "left", "labelAngle": 0, "labelFontSize": 10, "labelFontWeight": "bold", "labelColor": "#222", "labelPadding": 2, "labelAlign": "center", "labelBaseline": "middle"}}},
"spacing": {"row": 10},
"spec": {
  "width": 347, "height": 76,
  "encoding": {"x": {"field": "h", "type": "quantitative", "scale": {"domain": [0, 12300], "nice": false},
     "axis": {"values": [1000,2000,3000,4000,5000,6000,7000,8000,9000,10000,11000,12000], "format": "d", "title": "heat number", "titleFontWeight": "bold", "titleFontSize": 10, "titlePadding": 3, "labelPadding": 1, "tickSize": 2}}},
  "layer": [
    {"mark": {"type": "area", "color": "#c9c9c9", "opacity": 1},
     "encoding": {"y": {"field": "l", "type": "quantitative", "scale": {"domain": [0, 1], "nice": false},
        "axis": {"values": [0,0.2,0.4,0.6,0.8,1], "labelExpr": "format(datum.value, '~g')", "title": null, "labelOverlap": false, "labelBound": false, "labelFlush": false, "labelPadding": 1, "tickSize": 2}},
       "y2": {"field": "u"}}},
    {"mark": {"type": "line", "color": "#333333", "strokeWidth": 0.8},
     "encoding": {"y": {"field": "m", "type": "quantitative",
        "axis": {"values": [0,0.2,0.4,0.6,0.8,1], "labelExpr": "format(datum.value, '~g')", "title": null, "labelOverlap": false, "labelBound": false, "labelFlush": false, "labelPadding": 1, "tickSize": 2}}}}
  ]
},
"config": {
  "font": "Liberation Sans",
  "view": {"stroke": "#999999", "strokeWidth": 1},
  "axis": {"grid": false, "domain": false, "labelFontSize": 8, "labelColor": "#333", "tickColor": "#999", "tickSize": 2, "labelFlush": false, "labelOverlap": false}
}
}
